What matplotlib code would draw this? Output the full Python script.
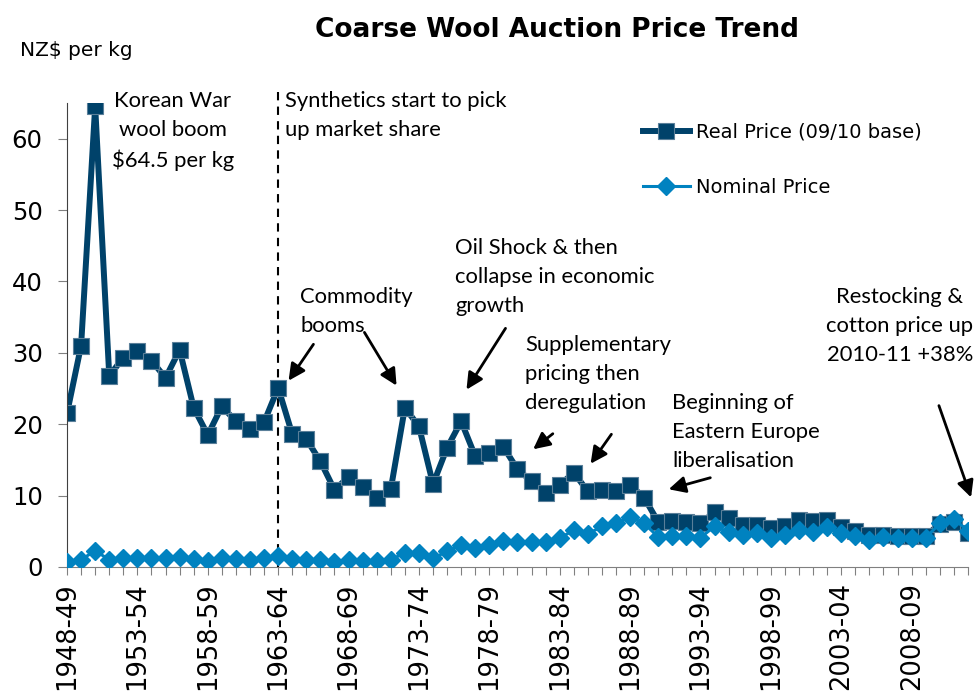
import matplotlib
matplotlib.use("Agg")
import matplotlib.pyplot as plt
import numpy as np

# Seasons 1948-49 .. 2012-13
seasons = ["{}-{:02d}".format(y, (y + 1) % 100) for y in range(1948, 2013)]

real_price = [21.5, 31.0, 64.5, 26.8, 29.3, 30.3, 28.9, 26.5, 30.4, 22.3,
              18.5, 22.5, 20.4, 19.3, 20.3, 25.1, 18.6, 17.9, 14.8, 10.8,
              12.6, 11.2, 9.6, 10.9, 22.3, 19.7, 11.6, 16.7, 20.4, 15.5,
              15.9, 16.8, 13.7, 12.0, 10.4, 11.5, 13.2, 10.6, 10.8, 10.6,
              11.5, 9.7, 6.3, 6.5, 6.3, 6.1, 7.7, 6.9, 5.9, 5.9,
              5.4, 5.8, 6.6, 6.4, 6.6, 5.6, 5.1, 4.5, 4.5, 4.4,
              4.4, 4.4, 6.0, 6.3, 4.7]

nominal_price = [0.7, 1.0, 2.3, 1.0, 1.2, 1.3, 1.3, 1.2, 1.4, 1.1,
                 0.9, 1.2, 1.1, 1.0, 1.2, 1.5, 1.1, 1.0, 1.0, 0.7,
                 1.0, 0.8, 0.8, 1.0, 2.0, 2.0, 1.2, 2.2, 3.1, 2.6,
                 3.1, 3.7, 3.5, 3.5, 3.5, 4.0, 5.2, 4.6, 5.7, 6.1,
                 7.0, 6.1, 4.2, 4.3, 4.3, 4.1, 5.7, 4.9, 4.5, 4.8,
                 4.0, 4.5, 5.2, 4.9, 5.6, 4.7, 4.3, 3.8, 4.2, 4.1,
                 4.1, 4.1, 6.1, 6.7, 5.1]

REAL_COL = "#00426A"
NOM_COL = "#0082C0"
ANN_FONT = ["Lato", "DejaVu Sans"]

fig = plt.figure(figsize=(9.74, 7.0), dpi=100)
ax = fig.add_axes([0.0688, 0.19, 0.925, 0.663])

x = np.arange(len(seasons))
ax.plot(x, nominal_price, color=NOM_COL, lw=2.2, marker="D", markersize=9,
        markeredgecolor=NOM_COL, label="Nominal Price", zorder=3)
ax.plot(x, real_price, color=REAL_COL, lw=4.3, marker="s", markersize=11,
        markeredgecolor="#5A7F99", markeredgewidth=0.8,
        label="Real Price (09/10 base)", zorder=2)

ax.set_xlim(0, len(seasons) - 1)
ax.set_ylim(0, 65)
ax.set_yticks(range(0, 61, 10))
ax.tick_params(axis="y", labelsize=17.5, length=6.5, color="#808080", pad=11)
ax.set_xticks(x)
ax.set_xticklabels([s if i % 5 == 0 else "" for i, s in enumerate(seasons)],
                   rotation=90, fontsize=18.5)
ax.tick_params(axis="x", length=6, color="#808080", pad=5)
for side in ["top", "right"]:
    ax.spines[side].set_visible(False)
ax.spines["left"].set_color("#404040")
ax.spines["bottom"].set_color("#808080")

# synthetics divider
ax.plot([15, 15], [0, 67.2], ls=(0, (4, 3)), color="black", lw=1.5,
        clip_on=False, zorder=1)

# legend (reversed order, real on top)
h, l = ax.get_legend_handles_labels()
ax.legend(h[::-1], l[::-1], loc="upper left", bbox_to_anchor=(0.62, 0.995),
          frameon=False, fontsize=14, labelspacing=1.85, handlelength=2.4,
          handletextpad=0.3)

fig.text(0.572, 0.957, "Coarse Wool Auction Price Trend", ha="center", va="center",
         fontsize=19, fontweight="bold")
fig.text(0.021, 0.928, "NZ$ per kg", ha="left", va="center", fontsize=14.5)

# annotations
def note(txt, xy, ha="left"):
    fig.text(xy[0] / 974, 1 - xy[1] / 700, txt, ha=ha, va="top", fontsize=15.8,
             family=ANN_FONT, linespacing=1.55)

def arrow(tail, tip):
    fig.add_artist(matplotlib.patches.FancyArrowPatch(
        (tail[0] / 974, 1 - tail[1] / 700), (tip[0] / 974, 1 - tip[1] / 700),
        transform=fig.transFigure, arrowstyle="-|>", mutation_scale=25,
        color="black", lw=2))

note("Korean War\nwool boom\n$64.5 per kg", (173, 91), ha="center")
note("Synthetics start to pick\nup market share", (285, 91))
note("Commodity\nbooms", (300, 287))
note("Oil Shock & then\ncollapse in economic\ngrowth", (455, 238))
note("Supplementary\npricing then\nderegulation", (525, 335))
note("Beginning of\nEastern Europe\nliberalisation", (672, 393))
note("Restocking &\ncotton price up\n2010-11 +38%", (900, 287), ha="center")

arrow((315, 342), (287, 383))
arrow((363, 330), (398, 388))
arrow((507, 326), (465, 392))
arrow((555, 432), (531, 451))
arrow((613, 432), (589, 466))
arrow((713, 477), (666, 490))
arrow((938, 403), (972, 500))

fig.savefig("out.png", dpi=100)
